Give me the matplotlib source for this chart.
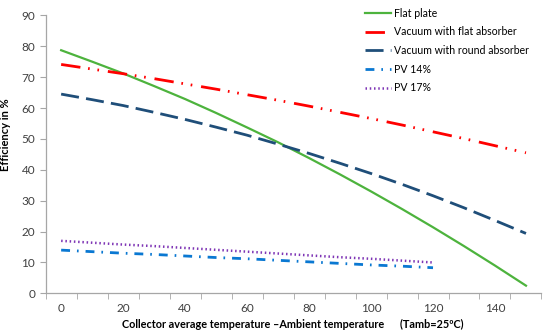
import matplotlib.pyplot as plt
import numpy as np

# temperature difference (collector - ambient), K
dt = [0, 10, 20, 30, 40, 50, 60, 70, 80, 90, 100, 110, 120, 130, 140, 150]
dt_pv = [0, 10, 20, 30, 40, 50, 60, 70, 80, 90, 100, 110, 120]

flat_plate = [78.7, 75.0, 71.2, 67.1, 62.9, 58.4, 53.7, 48.9, 43.8, 38.5, 33.0, 27.3, 21.4, 15.3, 9.0, 2.5]
vac_flat = [74.1, 72.6, 71.1, 69.5, 67.8, 66.1, 64.3, 62.5, 60.6, 58.6, 56.6, 54.5, 52.3, 50.1, 47.8, 45.5]
vac_round = [64.5, 62.7, 60.8, 58.6, 56.3, 53.8, 51.2, 48.3, 45.3, 42.1, 38.8, 35.3, 31.6, 27.7, 23.6, 19.4]
pv14 = [14.0, 13.5, 13.0, 12.6, 12.1, 11.6, 11.2, 10.7, 10.2, 9.7, 9.2, 8.8, 8.3]
pv17 = [17.0, 16.4, 15.8, 15.3, 14.7, 14.1, 13.5, 12.9, 12.3, 11.7, 11.2, 10.6, 10.0]

xticklabels = ["0", "20", "40", "60", "80", "100", "120", "140"]

plt.rcParams['font.family'] = ['Lato', 'DejaVu Sans']

fig = plt.figure(figsize=(5.5, 3.33), dpi=100)
ax = fig.add_axes([0.083, 0.119, 0.9015, 0.835])

ax.plot(dt, flat_plate, color='#4DB33D', lw=1.6, label='Flat plate')
ax.plot(dt, vac_flat, color='#FF0000', lw=2.0, dashes=(7, 2.8, 0.6, 2.8, 0.6, 3.2),
        label='Vacuum with flat absorber')
ax.plot(dt, vac_round, color='#1F4E79', lw=2.0, dashes=(6.5, 2.6), label='Vacuum with round absorber')
ax.plot(dt_pv, pv14, color='#0A78D2', lw=2.0, dashes=(3.2, 2.5, 0.6, 2.5), label='PV 14%')
ax.plot(dt_pv, pv17, color='#7E35B5', lw=1.8, dashes=(0.6, 1.1), label='PV 17%')

ax.set_xlim(-5, 155)
ax.set_ylim(0, 90)
ax.set_yticks(np.arange(0, 91, 10))
ax.set_xticks([int(s) for s in xticklabels])
ax.set_xticklabels(xticklabels)
ax.set_xticks(np.arange(-5, 156, 10), minor=True)
ax.tick_params(axis='x', which='major', length=0, pad=7, labelsize=8.5, colors='#404040')
ax.tick_params(axis='x', which='minor', length=4, color='#A6A6A6', direction='out')
ax.tick_params(axis='y', length=4, color='#A6A6A6', labelsize=8.5, colors='#404040')
for s in ['top', 'right']:
    ax.spines[s].set_visible(False)
for s in ['left', 'bottom']:
    ax.spines[s].set_color('#A6A6A6')
    ax.spines[s].set_linewidth(0.9)

ax.set_ylabel('Efficiency in %', fontsize=8, fontweight='bold', labelpad=7)
ax.yaxis.set_label_coords(-0.07, 0.57)
fig.text(0.533, 0.026, 'Collector average temperature \u2013Ambient temperature      (Tamb=25\u00baC)',
         ha='center', va='center', fontsize=7.8, fontweight='bold')

fig.legend(loc='upper left', bbox_to_anchor=(0.647, 1.005), frameon=False, fontsize=7.6,
           handlelength=2.4, handletextpad=0.35, labelspacing=0.72)

fig.savefig('out.png', dpi=100)
